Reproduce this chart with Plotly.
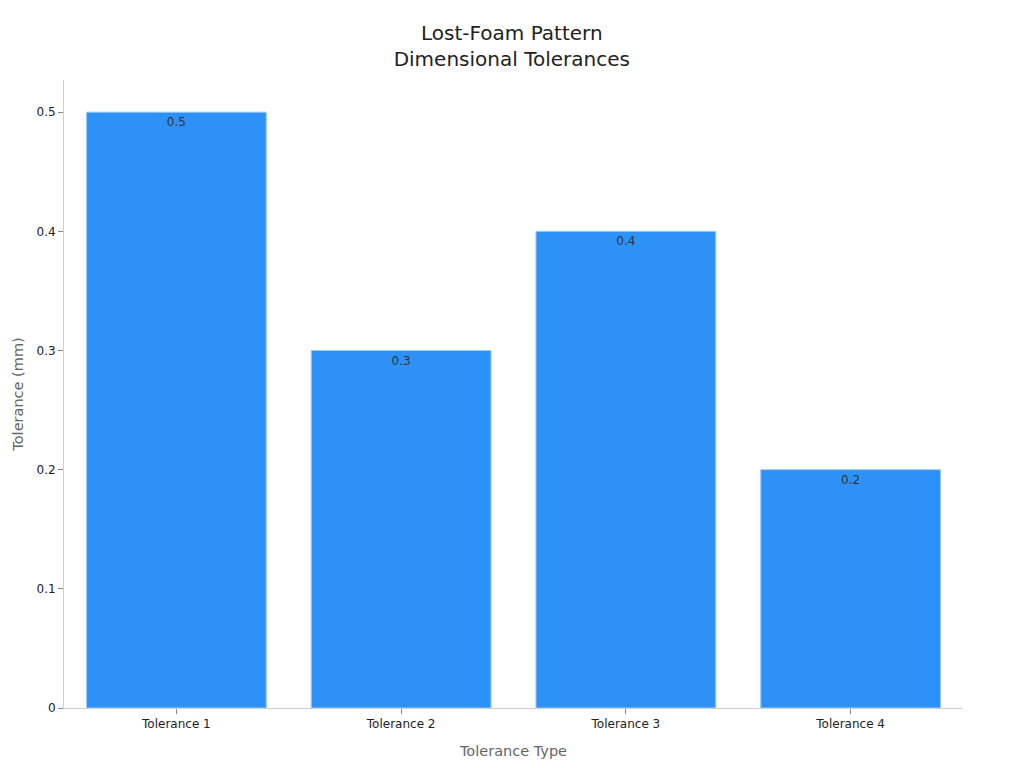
import plotly.graph_objects as go

categories = ["Tolerance 1", "Tolerance 2", "Tolerance 3", "Tolerance 4"]
tolerances = [0.5, 0.3, 0.4, 0.2]

fig = go.Figure(go.Bar(
    x=categories,
    y=tolerances,
    text=tolerances,
    textposition="inside",
    insidetextanchor="end",
    textfont=dict(size=12, color="#333333"),
    marker=dict(color="#2E91F8", line=dict(color="#9CCBFA", width=1)),
))

# the page body adds an 8px offset, so margins are shifted to compensate
fig.update_layout(
    width=1024, height=768,
    font=dict(family="DejaVu Sans", color="#222222"),
    title=dict(text="Lost-Foam Pattern<br>Dimensional Tolerances", x=0.492, y=0.958,
               xanchor="center", yanchor="top",
               font=dict(size=20, color="#222222")),
    margin=dict(l=56, r=69, t=72, b=68),
    plot_bgcolor="white", paper_bgcolor="white",
    bargap=0.2,
    showlegend=False,
)
fig.update_xaxes(
    title=dict(text="Tolerance Type", font=dict(size=14.5, color="#666666"), standoff=15),
    showline=True, linecolor="#D0D0D0", ticks="outside", tickcolor="#888888", ticklen=5,
    tickfont=dict(size=12, color="#222222"), showgrid=False,
)
fig.update_yaxes(
    title=dict(text="Tolerance (mm)", font=dict(size=14.5, color="#666666"), standoff=9),
    automargin=False,
    showline=True, linecolor="#D0D0D0", ticks="outside", tickcolor="#888888", ticklen=5,
    tickfont=dict(size=12, color="#222222"), showgrid=False, zeroline=False,
    range=[0, 0.527], dtick=0.1,
)

fig.write_html("out.html")
